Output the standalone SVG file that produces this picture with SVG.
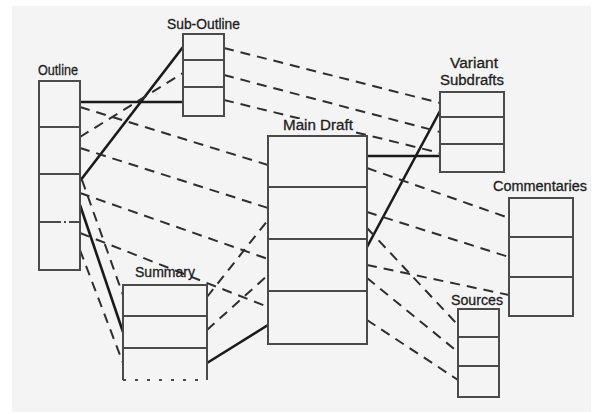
<svg xmlns="http://www.w3.org/2000/svg" width="603" height="414" viewBox="0 0 603 414">
<style>
.box{fill:#f4f4f4;stroke:#4a4a4a;stroke-width:2}
.div{stroke:#4a4a4a;stroke-width:2;fill:none}
.lbl{font-family:"Liberation Sans",Arial,sans-serif;font-size:14px;fill:#1e1e1e;stroke:#1e1e1e;stroke-width:0.3}
.solid{stroke:#1a1a1a;stroke-width:2.6;fill:none}
.dash{stroke:#2e2e2e;stroke-width:2;fill:none;stroke-dasharray:10 7}
.bg{fill:#f4f4f4}
</style>
<rect x="0" y="0" width="603" height="414" fill="#ffffff"/>
<rect x="12" y="6" width="579" height="406" fill="#f4f4f4"/>
<g id="connectors">
<line class="solid" x1="80" y1="102" x2="183" y2="102"/>
<line class="solid" x1="80" y1="181" x2="183" y2="47"/>
<line class="solid" x1="80" y1="205" x2="123" y2="332"/>
<line class="solid" x1="207" y1="363" x2="268" y2="325"/>
<line class="solid" x1="367" y1="156" x2="440" y2="156"/>
<line class="solid" x1="367" y1="247" x2="440" y2="111"/>
<line class="dash" x1="224" y1="48" x2="440" y2="103"/>
<line class="dash" x1="224" y1="75" x2="440" y2="132"/>
<line class="dash" x1="224" y1="100" x2="440" y2="153"/>
<line class="dash" x1="80" y1="107" x2="268" y2="165"/>
<line class="dash" x1="80" y1="137" x2="183" y2="73"/>
<line class="dash" x1="80" y1="148" x2="268" y2="208"/>
<line class="dash" x1="80" y1="193" x2="268" y2="259"/>
<line class="dash" x1="80" y1="233" x2="268" y2="307"/>
<line class="dash" x1="82" y1="180" x2="123" y2="295"/>
<line class="dash" x1="80" y1="250" x2="123" y2="363"/>
<line class="dash" x1="207" y1="297" x2="268" y2="220"/>
<line class="dash" x1="207" y1="330" x2="268" y2="275"/>
<line class="dash" x1="367" y1="168" x2="509" y2="218"/>
<line class="dash" x1="367" y1="212" x2="509" y2="257"/>
<line class="dash" x1="367" y1="265" x2="509" y2="295"/>
<line class="dash" x1="367" y1="228" x2="458" y2="325"/>
<line class="dash" x1="367" y1="278" x2="458" y2="352"/>
<line class="dash" x1="367" y1="320" x2="458" y2="380"/>
</g>
<g id="outline">
<text class="lbl" x="38" y="75" textLength="40" lengthAdjust="spacingAndGlyphs">Outline</text>
<rect class="box" x="39" y="81" width="41" height="189"/>
<line class="div" x1="39" y1="127" x2="80" y2="127"/>
<line class="div" x1="39" y1="174" x2="80" y2="174"/>
<line class="div" x1="39" y1="222" x2="80" y2="222" stroke-dasharray="22 3 2 3 20"/>
</g>
<g id="sub-outline">
<text class="lbl" x="167" y="29" textLength="73" lengthAdjust="spacingAndGlyphs">Sub-Outline</text>
<rect class="box" x="183" y="34" width="41" height="82"/>
<line class="div" x1="183" y1="60" x2="224" y2="60"/>
<line class="div" x1="183" y1="87" x2="224" y2="87"/>
</g>
<g id="main-draft">
<rect class="bg" x="290" y="119" width="62" height="13"/>
<text class="lbl" x="283" y="130" textLength="70" lengthAdjust="spacingAndGlyphs">Main Draft</text>
<rect class="box" x="268" y="136" width="99" height="208"/>
<line class="div" x1="268" y1="187" x2="367" y2="187"/>
<line class="div" x1="268" y1="239" x2="367" y2="239"/>
<line class="div" x1="268" y1="291" x2="367" y2="291"/>
</g>
<g id="variant-subdrafts">
<text class="lbl" x="450" y="68" textLength="48" lengthAdjust="spacingAndGlyphs">Variant</text>
<text class="lbl" x="440" y="85" textLength="64" lengthAdjust="spacingAndGlyphs">Subdrafts</text>
<rect class="box" x="440" y="92" width="64" height="80"/>
<line class="div" x1="440" y1="117" x2="504" y2="117"/>
<line class="div" x1="440" y1="144" x2="504" y2="144"/>
</g>
<g id="commentaries">
<text class="lbl" x="493" y="191" textLength="94" lengthAdjust="spacingAndGlyphs">Commentaries</text>
<rect class="box" x="509" y="198" width="64" height="118"/>
<line class="div" x1="509" y1="237" x2="573" y2="237"/>
<line class="div" x1="509" y1="277" x2="573" y2="277"/>
</g>
<g id="sources">
<text class="lbl" x="451" y="305" textLength="52" lengthAdjust="spacingAndGlyphs">Sources</text>
<rect class="box" x="458" y="309" width="41" height="88"/>
<line class="div" x1="458" y1="337" x2="499" y2="337"/>
<line class="div" x1="458" y1="366" x2="499" y2="366"/>
</g>
<g id="summary">
<text class="lbl" x="135" y="277" textLength="60" lengthAdjust="spacingAndGlyphs">Summary</text>
<path class="box" d="M123 380 V285 H207 V380"/>
<line class="div" x1="123" y1="380" x2="207" y2="380" stroke-dasharray="3 9"/>
<line class="div" x1="123" y1="316" x2="207" y2="316"/>
<line class="div" x1="123" y1="348" x2="207" y2="348"/>
</g>
</svg>
